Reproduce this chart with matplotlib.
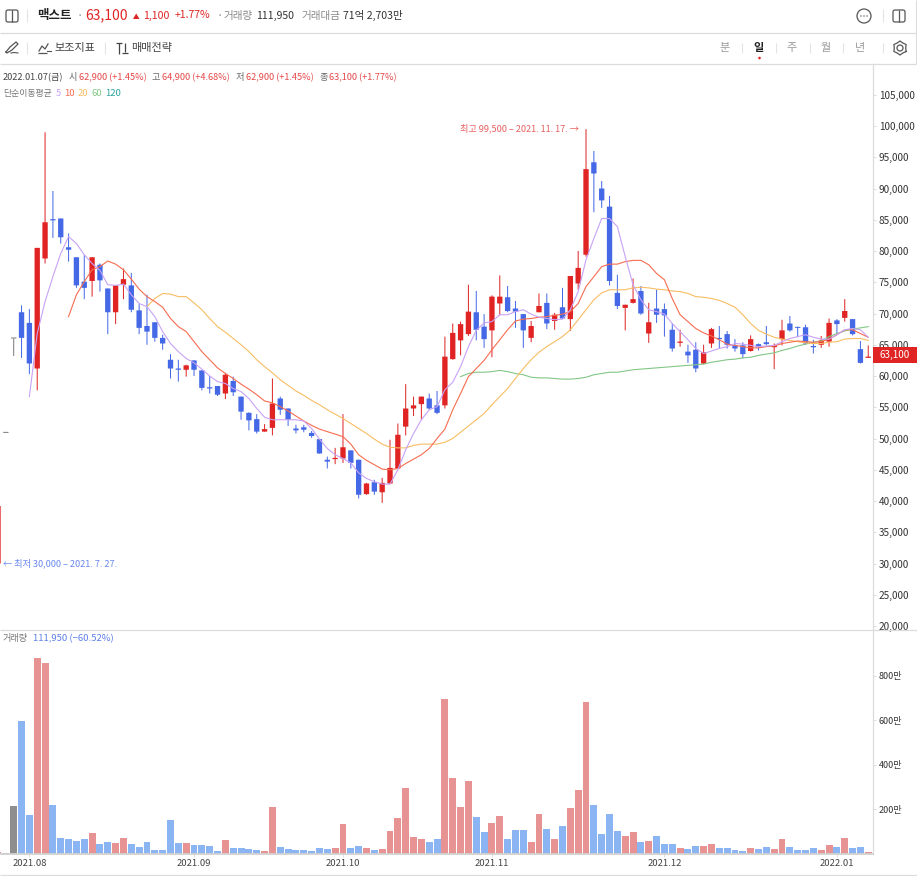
import matplotlib
matplotlib.use('Agg')
import numpy as np
import matplotlib.pyplot as plt
from matplotlib.patches import Rectangle, Circle, FancyBboxPatch, Polygon

plt.rcParams['font.family'] = ['Noto Sans CJK KR', 'DejaVu Sans']

# daily candles, first entry is two sessions before index 0
opens = [30000, 50900, 66000, 70200, 68500, 61200, 78800, 85100, 85200, 80600, 79000, 75100, 75200, 77800, 74000, 70200,
         74600, 74500, 70500, 68000, 68600, 66100, 62600, 61200, 61000, 62500, 60900, 58200, 58400, 57200, 59200, 56700,
         54100, 53100, 51100, 51700, 56400, 54800, 51600, 51800, 50900, 49900, 46600, 46700, 46800, 48100, 46600, 41100,
         43000, 41400, 42800, 45200, 51900, 54800, 55500, 56400, 55300, 55300, 62700, 65700, 66700, 70200, 67900, 67300,
         71600, 72600, 70800, 69900, 66100, 70200, 71700, 68800, 71000, 69100, 74800, 79400, 94200, 90000, 87100, 73300,
         70900, 71700, 73600, 66800, 70800, 70700, 67400, 65300, 63900, 64200, 62000, 65200, 66100, 66700, 64900, 64900,
         64000, 65100, 65400, 64600, 65900, 68400, 67800, 67800, 64800, 65000, 65500, 68900, 69300, 69100, 64300, 62900]
highs = [39200, 50900, 66000, 71300, 70700, 80500, 99000, 89600, 85200, 82800, 79000, 79400, 79000, 78000, 74000, 74500,
         77200, 76500, 71500, 73000, 68600, 66600, 63500, 62600, 61800, 62500, 60900, 60000, 58400, 60500, 59900, 56700,
         54200, 53900, 52300, 59600, 56700, 54800, 52200, 52200, 51200, 49900, 47100, 48500, 53900, 48100, 46600, 42900,
         43400, 43700, 49800, 52400, 58700, 56700, 56700, 57200, 57600, 66300, 68400, 68700, 74600, 73600, 69900, 72900,
         76100, 74400, 72000, 69900, 68800, 73200, 73200, 70100, 74100, 76000, 80000, 99500, 96000, 91200, 88800, 76200,
         71400, 75600, 74400, 71700, 73800, 71600, 68400, 67400, 65000, 65400, 65000, 67700, 68000, 67200, 65900, 65400,
         66500, 65200, 68000, 65200, 69000, 69600, 67900, 68200, 65800, 66400, 69200, 69100, 72300, 69100, 65600, 64900]
lows = [30000, 50900, 63200, 62900, 60300, 57700, 78000, 82100, 81200, 78300, 74100, 72300, 72700, 73500, 66700, 68300,
        72300, 70200, 66700, 65000, 65500, 64200, 59600, 59100, 59900, 60000, 57700, 57200, 56800, 56300, 56800, 53000,
        51300, 50800, 51100, 50500, 53800, 52000, 50800, 51000, 50100, 47600, 45200, 45900, 46100, 45200, 40400, 41000,
        41000, 39700, 42700, 45200, 50500, 53600, 53000, 54600, 53900, 54800, 62600, 63300, 66400, 65700, 64500, 63000,
        69700, 70200, 67700, 64500, 65400, 70200, 67500, 67400, 69100, 67200, 73800, 79100, 86200, 86900, 74500, 70700,
        67300, 71600, 69800, 65300, 68500, 66300, 63900, 64700, 62100, 60600, 61900, 64500, 64400, 64400, 63900, 62800,
        63900, 64100, 64900, 61100, 64900, 67100, 66200, 65000, 63600, 64500, 64700, 66600, 68700, 66500, 62000, 62900]
closes = [39200, 50900, 66000, 66100, 62000, 80500, 84600, 84900, 82200, 80200, 74500, 74100, 79000, 75300, 70200, 74500,
          75500, 70600, 67700, 67100, 66100, 65200, 61200, 61000, 61700, 61000, 58100, 58000, 57000, 60200, 57400, 54300,
          52900, 51100, 51500, 55600, 54600, 53000, 51300, 51400, 50400, 47600, 46300, 46900, 48600, 46100, 41000, 42800,
          41500, 42900, 45300, 50600, 54800, 55300, 56700, 54800, 54100, 63100, 66900, 68300, 70300, 67400, 65900, 72700,
          72700, 70400, 70300, 67300, 68000, 71200, 68400, 69800, 69200, 76000, 77300, 93100, 92400, 88100, 75200, 71200,
          71400, 72300, 70000, 68600, 69800, 69700, 64400, 65500, 63300, 61200, 63800, 67500, 65900, 65000, 64400, 63500,
          65900, 64600, 65100, 64900, 67300, 67300, 67700, 65200, 64600, 65700, 68500, 68300, 70400, 66700, 62100, 63100]
# volume in units of 10,000 shares
volumes = [7, 6, 216, 596, 175, 879, 858, 222, 72, 67, 60, 67, 94, 45, 54, 49,
           70, 45, 31, 54, 19, 16, 154, 49, 49, 42, 39, 36, 15, 63, 25, 28,
           22, 16, 12, 211, 31, 22, 16, 16, 15, 28, 22, 25, 136, 28, 36, 25,
           18, 21, 102, 160, 295, 75, 69, 52, 66, 697, 340, 211, 330, 165, 97, 141,
           171, 66, 106, 106, 55, 178, 114, 66, 127, 205, 286, 683, 222, 90, 178, 102,
           82, 97, 52, 57, 79, 46, 46, 28, 21, 36, 36, 43, 28, 28, 18, 15,
           28, 22, 30, 22, 66, 33, 19, 19, 25, 19, 39, 30, 73, 28, 33, 11.195]

# moving averages, each list starts at the session given by its *_start
ma5_start = 2
ma5 = [56700, 66800, 71900, 75900, 79600, 82300, 81200, 79400, 78000, 76900, 74600, 74500, 74700, 73000, 71600, 71100,
       69500, 67100, 65200, 63900, 62800, 62100, 61100, 60000, 59100, 58800, 58000, 57500, 56400, 54800, 53400, 53000,
       53000, 53000, 53000, 52800, 51600, 49900, 48400, 47400, 46800, 46100, 44500, 43600, 43100, 42700, 42700, 45000,
       48200, 50800, 53000, 54600, 55100, 57800, 59000, 61500, 64700, 67300, 68500, 68700, 69800, 69800, 70300, 70600,
       69900, 69400, 69200, 69000, 69100, 70600, 73500, 78600, 82000, 85200, 85200, 83900, 79100, 74600, 72200, 70600,
       70300, 69900, 68400, 67100, 65800, 64400, 63600, 64000, 64400, 64700, 65200, 65100, 64900, 64700, 64800, 64900,
       65500, 66000, 66300, 66600, 66200, 65900, 65900, 66600, 67400, 67600, 67400, 66200]
ma10_start = 7
ma10 = [69500, 73000, 75100, 77000, 77500, 78400, 77900, 77000, 75500, 73900, 72700, 71900, 71000, 69200, 67900, 67100,
        65500, 63900, 62600, 61300, 60400, 59600, 58700, 57900, 57000, 56000, 55700, 55100, 54400, 53600, 52800, 52100,
        51500, 51100, 50700, 50300, 49100, 47400, 46500, 45800, 45100, 45000, 45200, 46000, 46700, 47400, 48400, 50000,
        51500, 54600, 57200, 59900, 61200, 62500, 64200, 65800, 67400, 68800, 69100, 69200, 69400, 69500, 69700, 69900,
        70300, 71600, 74300, 75900, 77500, 77900, 77900, 78300, 78500, 78500, 77800, 76400, 75400, 72400, 69800, 68700,
        67600, 66900, 66400, 65800, 65100, 64900, 64700, 64500, 64500, 64700, 64800, 65200, 65400, 65600, 65500, 65400,
        65500, 65900, 66600, 67400, 67400, 66800, 66200]
ma20_start = 17
ma20 = [71100, 72400, 73200, 73100, 72700, 72700, 71700, 70600, 69200, 67900, 67000, 66000, 65000, 63900, 62600, 61500,
        60500, 59400, 58500, 57600, 56900, 56100, 55400, 54600, 53900, 53200, 52400, 51600, 50800, 49900, 49100, 48600,
        48500, 48500, 48900, 49100, 49100, 49100, 49400, 50000, 51000, 52000, 53000, 54000, 55400, 56700, 58000, 59600,
        61200, 62600, 63800, 64700, 65500, 66300, 67400, 69000, 70600, 72200, 73300, 73800, 73800, 73800, 74100, 74200,
        74100, 73900, 73800, 73600, 73500, 73200, 72700, 72600, 72400, 72100, 71600, 71000, 69800, 68400, 67300, 66700,
        66200, 65900, 65700, 65500, 65300, 65200, 65200, 65400, 65500, 65900, 66000, 66000, 65700]
ma60_start = 57
ma60 = [59900, 60400, 60600, 60600, 60700, 60900, 60700, 60400, 60200, 59800, 59700, 59700, 59600, 59500, 59500, 59600,
        59800, 60200, 60400, 60600, 60600, 60800, 61000, 61100, 61200, 61300, 61400, 61500, 61600, 61700, 61800, 61900,
        62200, 62400, 62600, 62700, 62900, 63000, 63300, 63500, 63700, 64100, 64400, 64800, 65100, 65400, 65600, 66300,
        66800, 67200, 67500, 67700, 67900]

price_ticks = list(range(20000, 105001, 5000))
volume_ticks = [200, 400, 600, 800]
month_positions = [2, 23, 42, 61, 83, 105]
month_labels = ['2021.08', '2021.09', '2021.10', '2021.11', '2021.12', '2022.01']

RED = '#e02424'
BLUE = '#4569e6'
GRAY = '#7a7a7a'
VOL_RED = '#e89393'
VOL_BLUE = '#8bb4f3'
VOL_GRAY = '#8e8e8e'
LINE = '#dcdcdc'
C5, C10, C20, C60, C120 = '#c8a2f6', '#f76c50', '#f7bd63', '#82c785', '#2aa5a0'

W, H = 917, 876
fig = plt.figure(figsize=(W / 100, H / 100), dpi=100, facecolor='white')


def pixel_axes(left, top, right, bottom):
    return fig.add_axes([left / W, 1 - bottom / H, (right - left) / W, (bottom - top) / H])


ax = pixel_axes(0, 64, 873, 629)
vol = pixel_axes(0, 630, 873, 854)

x = np.arange(len(opens)) - 2
o = np.array(opens, dtype=float)
c = np.array(closes, dtype=float)

candle_colors = [RED if cl > op else BLUE if cl < op else GRAY for op, cl in zip(o, c)]
volume_colors = [VOL_RED if cl > op else VOL_BLUE if cl < op else VOL_GRAY for op, cl in zip(o, c)]

# wicks first, bodies on top
wicks = ax.vlines(x, lows, highs, colors=candle_colors, linewidth=0.72, zorder=2)
wicks.set_snap(False)
body_height = np.maximum(np.abs(c - o), 160)
bodies = ax.bar(x, body_height, bottom=np.minimum(o, c), width=0.68, color=candle_colors, linewidth=0, zorder=3)
for b in bodies:
    b.set_snap(False)

for values, start, color in [(ma60, ma60_start, C60), (ma20, ma20_start, C20), (ma10, ma10_start, C10), (ma5, ma5_start, C5)]:
    ax.plot(np.arange(len(values)) + start, values, color=color, linewidth=0.8, zorder=4)

# one session is 7.84 px wide, index 0 sits 13.7 px from the left edge
ax.set_xlim((0 - 13.7) / 7.84, (873 - 13.7) / 7.84)
ax.set_ylim(19520, 109920)
ax.set_xticks([])
ax.yaxis.tick_right()
ax.set_yticks(price_ticks)
ax.set_yticklabels([f'{p:,}' for p in price_ticks])

vol.bar(x, volumes, width=0.88, color=volume_colors, linewidth=0, zorder=2)
vol.set_xlim(ax.get_xlim())
vol.set_ylim(0, 1006.7)
vol.yaxis.tick_right()
vol.set_yticks(volume_ticks)
vol.set_yticklabels([f'{v}만' for v in volume_ticks])
vol.set_xticks(month_positions)
vol.set_xticklabels(month_labels)

for a in (ax, vol):
    for side in ('left', 'top', 'bottom'):
        a.spines[side].set_visible(False)
    a.spines['right'].set_color(LINE)
    a.spines['right'].set_linewidth(0.9)
    a.tick_params(axis='y', length=2.2, width=0.7, color=LINE, labelsize=7.2, labelcolor='#333333', pad=2)
vol.tick_params(axis='y', labelsize=6.5)
vol.tick_params(axis='x', length=2.2, width=0.7, color=LINE, labelsize=6.8, labelcolor='#444444', pad=1.5)
vol.spines['bottom'].set_visible(True)
vol.spines['bottom'].set_color('#d2d2d2')
vol.spines['bottom'].set_linewidth(1.3)

# toolbar and legend text live on a pixel overlay
ui = fig.add_axes([0, 0, 1, 1], facecolor='none')
ui.set_xlim(0, W)
ui.set_ylim(H, 0)
ui.axis('off')


def label(px, py, s, color='#333333', size=7, weight='normal', ha='left'):
    ui.text(px, py, s, color=color, fontsize=size, fontweight=weight, ha=ha, va='center')


def hline(y0, x0=0, x1=W, color=LINE, lw=0.9):
    ui.plot([x0, x1], [y0, y0], color=color, linewidth=lw, solid_capstyle='butt')


def vline(px, y0, y1, color='#e4e4e4', lw=0.8):
    ui.plot([px, px], [y0, y1], color=color, linewidth=lw, solid_capstyle='butt')


def panel_icon(px, py, split):
    ui.add_patch(FancyBboxPatch((px, py), 12, 12, boxstyle='round,pad=0,rounding_size=2', fill=False, ec='#555555', lw=0.9))
    vline(px + split, py, py + 12, color='#555555', lw=0.9)


hline(33, x1=916)
hline(63.5, x1=916)
hline(629.5)
hline(874.5)
vline(916, 0, 64, color=LINE)

# top row
panel_icon(6, 10, 6)
vline(27, 9, 22)
label(37, 15.5, '맥스트', color='#222222', size=9, weight='bold')
label(77, 15.5, '·', color='#888888', size=8)
label(85, 15.5, '63,100', color=RED, size=10)
ui.add_patch(Polygon([(133, 19), (139.5, 19), (136.2, 13.5)], color=RED, lw=0))
label(143, 15.5, '1,100', color=RED, size=7.6)
label(175, 15.5, '+1.77%', color=RED, size=7.6)
label(217, 15.5, '·', color='#888888', size=8)
label(224, 15.5, '거래량', color='#888888', size=7.6)
label(256, 15.5, '111,950', color='#333333', size=7.6)
label(302, 15.5, '거래대금', color='#888888', size=7.6)
label(343, 15.5, '71억 2,703만', color='#333333', size=7.6)
ui.add_patch(Circle((864, 16), 7, fill=False, ec='#555555', lw=0.9))
for dx in (-3, 0, 3):
    ui.add_patch(Circle((864 + dx, 16), 0.7, color='#555555', lw=0))
vline(883, 9, 22)
panel_icon(893, 10, 6)

# second row
ui.plot([6, 10, 16, 18, 12, 7, 6], [52, 47, 42, 44, 50, 53, 52], color='#555555', lw=0.9)
ui.plot([11, 14, 18], [53, 52.5, 53], color='#555555', lw=0.8)
vline(27, 42, 54)
ui.plot([39, 42, 45, 48], [51, 46, 49, 44], color='#555555', lw=0.9)
hline(53, 38, 47, color='#555555')
ui.plot([47, 51], [51, 51], color='#555555', lw=0.8)
label(54, 48, '보조지표', color='#444444', size=8)
vline(105, 42, 54)
vline(119, 43, 53.5, color='#444444', lw=0.9)
hline(43, 116, 122, color='#444444')
vline(125, 43, 52, color='#444444', lw=0.9)
hline(53, 122, 128, color='#444444')
label(131, 48, '매매전략', color='#444444', size=8)
for px, s, col, wt in [(725, '분', '#999999', 'normal'), (759, '일', '#222222', 'bold'), (792, '주', '#999999', 'normal'),
                       (826, '월', '#999999', 'normal'), (860, '년', '#999999', 'normal')]:
    label(px, 48, s, color=col, size=8, weight=wt, ha='center')
for px in (742, 776, 810, 843, 883):
    vline(px, 43, 53)
ui.add_patch(Circle((759.5, 58), 1.3, color=RED, lw=0))
gear = np.linspace(0, 2 * np.pi, 13) + np.pi / 6
gear_r = 7 * np.array([1, 0.82] * 6 + [1])
ui.plot(900 + gear_r * np.cos(gear), 48 + gear_r * np.sin(gear), color='#555555', lw=0.9)
ui.add_patch(Circle((900, 48), 3, fill=False, ec='#555555', lw=0.9))

# OHLC readout
label(3, 77.5, '2022.01.07(금)', color='#444444', size=6.6)
for px, s in [(69, '시'), (152, '고'), (236, '저'), (319, '종')]:
    label(px, 77.5, s, color='#666666', size=6.6)
for px, s in [(79, '62,900 (+1.45%)'), (162, '64,900 (+4.68%)'), (246, '62,900 (+1.45%)'), (329, '63,100 (+1.77%)')]:
    label(px, 77.5, s, color='#e54848', size=6.6)
label(3, 93.5, '단순이동평균', color='#777777', size=6.4)
for px, s, col in [(56, '5', C5), (64, '10', C10), (78, '20', C20), (91, '60', C60), (105, '120', C120)]:
    label(px, 93.5, s, color=col, size=6.8)

# high / low callouts
label(460, 128, '최고 99,500 – 2021. 11. 17. →', color='#e86060', size=6.6)
label(3, 563.5, '← 최저 30,000 – 2021. 7. 27.', color='#6a88ee', size=6.6)

# current price tag
ui.add_patch(Rectangle((873, 347), 44, 16, color=RED, lw=0, zorder=5))
ui.text(879, 355, '63,100', color='white', fontsize=7.2, ha='left', va='center', zorder=6)

label(3, 639, '거래량', color='#777777', size=6.6)
label(33, 639, '111,950 (−60.52%)', color='#5b7fe8', size=6.8)

fig.savefig('out.png', dpi=100)
